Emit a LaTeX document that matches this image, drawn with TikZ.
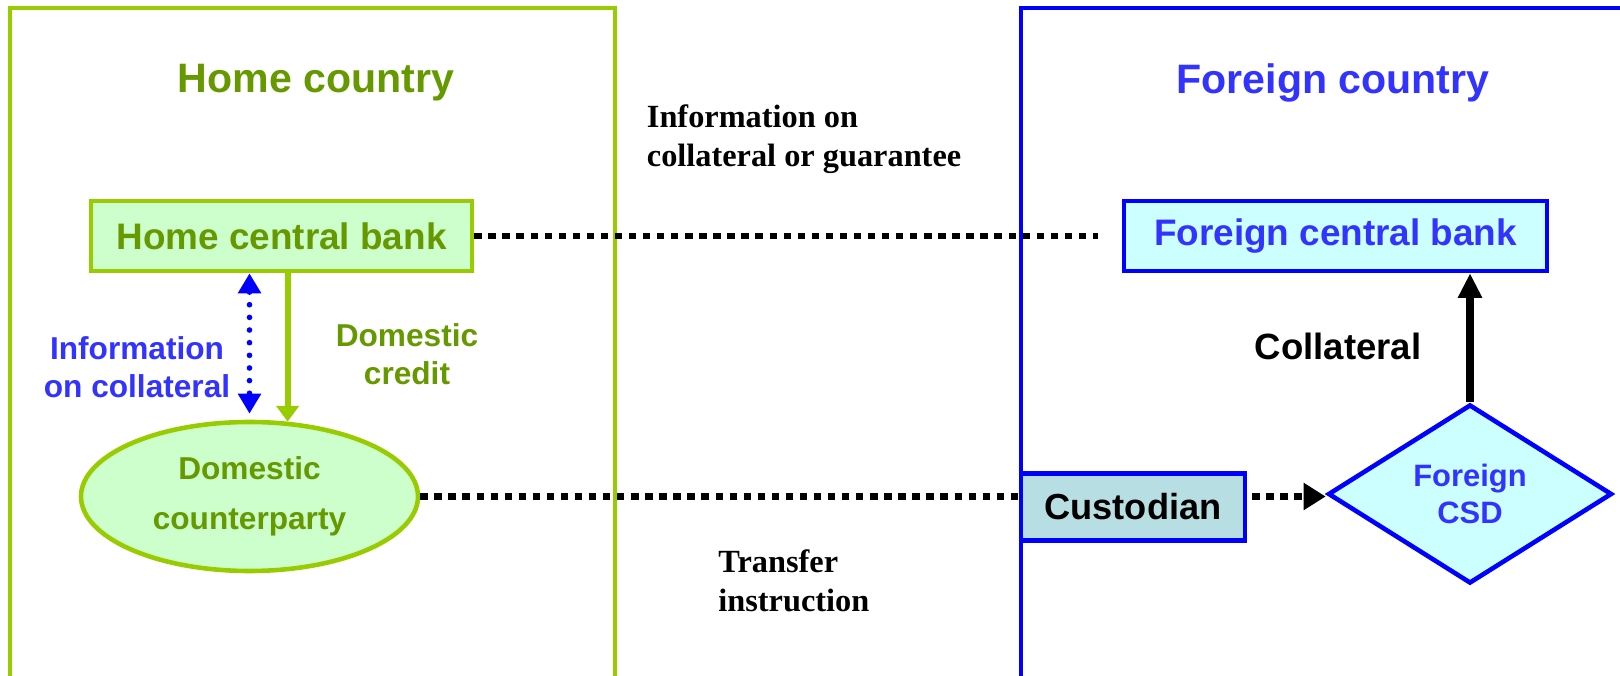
\documentclass[tikz,border=0pt]{standalone}
\usepackage{fontspec}
\setmainfont{Liberation Sans}
\newfontfamily\notefont{Liberation Serif}
\usepackage{tikz}
\usetikzlibrary{arrows.meta,positioning,shapes.geometric,calc}
\definecolor{homeline}{RGB}{153,204,0}
\definecolor{hometext}{RGB}{102,153,0}
\definecolor{homefill}{RGB}{204,255,204}
\definecolor{frgnline}{RGB}{0,0,255}
\definecolor{frgntext}{RGB}{51,51,255}
\definecolor{frgnfill}{RGB}{204,255,255}
\definecolor{custfill}{RGB}{183,222,226}

\begin{document}
\begin{tikzpicture}[
      every node/.style={font=\bfseries},
      title/.style={font=\fontsize{11.7}{14}\selectfont\bfseries},
      bank/.style={draw,line width=1.3pt,inner sep=0pt,
        minimum height=0.70cm,font=\fontsize{10.5}{12.6}\selectfont\bfseries},
      lab/.style={align=center,font=\fontsize{9}{10.8}\selectfont\bfseries},
      note/.style={align=left,font=\fontsize{9.2}{11}\selectfont\notefont\bfseries},
      link/.style={line width=1.8pt,dash pattern=on 2.1pt off 1.9pt}
    ]
      \useasboundingbox (0,0) rectangle (16.2,6.75);

      % the two countries
      \draw[homeline,line width=1.3pt] (0.10,-0.2) rectangle (6.15,6.67);
      \draw[frgnline,line width=1.3pt] (10.21,-0.2) rectangle (16.5,6.67);
      \node[title,text=hometext] (hometitle) at (3.16,5.92) {Home country};
      \node[title,text=frgntext] (frgntitle) at (13.33,5.92) {Foreign country};

      % nodes
      \node[bank,draw=homeline,fill=homefill,text=hometext,
        minimum width=3.81cm] (hcb) at (2.815,4.39) {Home central bank};
      \node[bank,draw=frgnline,fill=frgnfill,text=frgntext,
        minimum width=4.23cm] (fcb) at (13.355,4.39) {Foreign central bank};
      \node[ellipse,draw=homeline,line width=1.3pt,fill=homefill,inner sep=0pt,
        minimum width=3.37cm,minimum height=1.49cm,text=hometext,align=center,
        font=\fontsize{9}{14.2}\selectfont\bfseries] (dc) at (2.495,1.785)
        {Domestic\\counterparty};
      \node[bank,draw=frgnline,fill=custfill,minimum width=2.24cm,
        minimum height=0.67cm,font=\fontsize{10.3}{12}\selectfont\bfseries]
        (cust) at (11.33,1.68) {Custodian};
      \node[diamond,draw=frgnline,line width=1.3pt,fill=frgnfill,inner sep=0pt,
        minimum width=2.84cm,minimum height=1.79cm,text=frgntext,align=center,
        font=\fontsize{8.8}{10.5}\selectfont\bfseries] (csd) at (14.70,1.81)
        {Foreign\\CSD};

      % connectors
      \draw[-{Triangle[length=4.5pt,width=6.3pt]},homeline,line width=1.7pt]
        (hcb.south -| dc.63) -- (dc.63);
      \draw[{Triangle[length=5.7pt,width=6.3pt]}-{Triangle[length=5.7pt,width=6.3pt]},
        frgnline,line width=1.6pt,line cap=round,dash pattern=on 0pt off 3.6pt]
        (hcb.south -| dc.north) -- ($(dc.north)+(0,0.06)$);
      \draw[link,shorten >=0.24cm] (hcb.east) -- (fcb.west);
      \draw[link] (dc.east) -- (dc.east -| cust.west);
      \draw[link,-{Triangle[length=6.3pt,width=7.4pt]},shorten <=0.05cm]
        (cust.east |- dc.east) -- (dc.east -| csd.west);
      \draw[-{Triangle[length=7pt,width=6.5pt]},line width=2.2pt]
        (csd.north) -- (csd.north |- fcb.south);

      % labels
      \node[lab,text=frgntext] (infocoll) at (1.37,3.08)
        {Information\\on collateral};
      \node[lab,text=hometext] (domcredit) at (4.07,3.21) {Domestic\\credit};
      \node[font=\fontsize{10.4}{12}\selectfont\bfseries] (colllab)
        at (13.38,3.29) {Collateral};
      \node[note,anchor=west] (infoguar) at (6.345,5.36)
        {Information on\\collateral or guarantee};
      \node[note,anchor=west] (transfer) at (7.06,0.94)
        {Transfer\\instruction};
    \end{tikzpicture}
\end{document}
